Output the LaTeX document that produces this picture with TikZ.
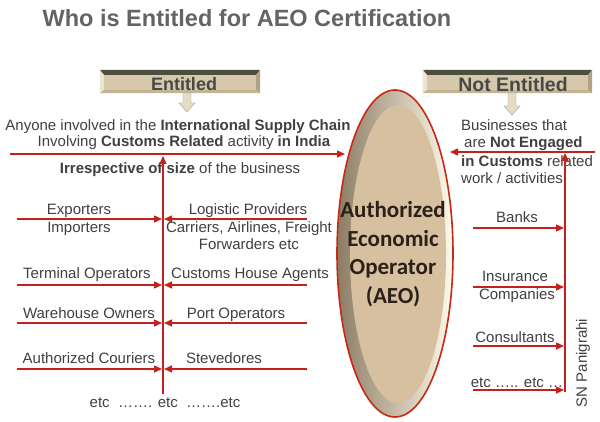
\documentclass[tikz,border=0pt]{standalone}
\usepackage{fontspec}
\setmainfont{Liberation Sans}
\newfontfamily\calib{Carlito}
\usetikzlibrary{arrows.meta,shapes.geometric}
\definecolor{arrred}{RGB}{196,32,28}
\definecolor{ellred}{RGB}{200,40,20}
\definecolor{txt}{RGB}{64,64,64}
\definecolor{titlegray}{RGB}{100,100,100}
\definecolor{boxtan}{RGB}{214,200,170}
\definecolor{bevdark}{RGB}{78,78,64}
\definecolor{bevlight}{RGB}{236,228,210}
\definecolor{bevright}{RGB}{176,162,132}
\definecolor{bevbot}{RGB}{194,180,148}
\definecolor{hdrtxt}{RGB}{72,72,72}
\definecolor{arrfill}{RGB}{230,220,198}
\definecolor{arrdraw}{RGB}{170,160,140}
\definecolor{bevL}{RGB}{140,124,100}
\definecolor{bevR}{RGB}{255,250,236}
\definecolor{innertan}{RGB}{214,192,160}
\definecolor{aeotxt}{RGB}{43,33,24}
\begin{document}
\begin{tikzpicture}[x=1pt,y=-1pt,
  lbl/.style={anchor=base,text=txt,inner sep=0pt,font=\fontsize{15}{18}\selectfont},
  redarr/.style={draw=arrred,line width=1.3pt,-{Triangle[length=8pt,width=7pt]}},
  hdrbox/.style={draw=none,fill=boxtan,minimum height=23pt,inner sep=0pt},
  hdrtext/.style={anchor=base,inner sep=0pt,text=hdrtxt},
  blockarr/.style={fill=arrfill,draw=arrdraw,line width=0.4pt},
  aeoline/.style={anchor=base,inner sep=0pt,text=aeotxt,font=\fontsize{23}{28}\calib\bfseries}
]
\useasboundingbox[fill=white] (0,0) rectangle (600,422);

% title
\node[anchor=base,inner sep=0pt,text=titlegray,font=\fontsize{23.5}{28}\selectfont\bfseries] (title) at (247,27) {Who is Entitled for AEO Certification};

% header boxes
\node[hdrbox,minimum width=160pt] (ent) at (180,81.5) {};
\node[hdrbox,minimum width=169pt] (nent) at (507.5,81.5) {};
\foreach \b in {ent,nent}{
  \fill[bevdark] (\b.north west) -- (\b.north east) -- ([xshift=-4pt,yshift=-5pt]\b.north east) -- ([xshift=4pt,yshift=-5pt]\b.north west) -- cycle;
  \fill[bevlight] (\b.north west) -- ([xshift=4pt,yshift=-5pt]\b.north west) -- ([xshift=4pt,yshift=3pt]\b.south west) -- (\b.south west) -- cycle;
  \fill[bevright] (\b.north east) -- ([xshift=-4pt,yshift=-5pt]\b.north east) -- ([xshift=-4pt,yshift=3pt]\b.south east) -- (\b.south east) -- cycle;
  \fill[bevbot] (\b.south west) -- ([xshift=4pt,yshift=3pt]\b.south west) -- ([xshift=-4pt,yshift=3pt]\b.south east) -- (\b.south east) -- cycle;
}
\node[hdrtext,font=\fontsize{18}{20}\selectfont\bfseries] (entt) at (184,91) {Entitled};
\node[hdrtext,font=\fontsize{19.5}{22}\selectfont\bfseries] (nentt) at (513,91.5) {Not Entitled};

% small block arrows under headers
\draw[blockarr] (183,93) -- (191,93) -- (191,103) -- (195,103) -- (187,112) -- (179,103) -- (183,103) -- cycle;
\draw[blockarr] (508,93) -- (516,93) -- (516,106) -- (520,106) -- (512,115) -- (504,106) -- (508,106) -- cycle;

% central ellipse
\node[ellipse,minimum width=116pt,minimum height=327pt,inner sep=0pt,draw=ellred,line width=1.6pt,left color=bevL,right color=bevR] (aeo) at (395,253.5) {};
\node[ellipse,minimum width=96pt,minimum height=298pt,inner sep=0pt,fill=innertan] (aeoin) at (398,254) {};
\node[aeoline] (aeo1) at (393,218) {Authorized};
\node[aeoline] (aeo2) at (393,247) {Economic};
\node[aeoline] (aeo3) at (393,275) {Operator};
\node[aeoline] (aeo4) at (393,303) {(AEO)};

% left texts
\node[lbl] (l1) at (178,131) {Anyone involved in the \textbf{International Supply Chain}};
\node[lbl] (l2) at (184,147) {Involving \textbf{Customs Related} activity \textbf{in India}};
\node[lbl] (l3) at (180,174) {\textbf{Irrespective of size} of the business};
\node[lbl] (exp) at (79,215) {Exporters};
\node[lbl] (imp) at (79,233) {Importers};
\node[lbl] (log) at (248,215) {Logistic Providers};
\node[lbl] (car) at (249,233) {Carriers, Airlines, Freight};
\node[lbl] (fwd) at (249,250) {Forwarders etc};
\node[lbl] (term) at (87,279) {Terminal Operators};
\node[lbl] (cha) at (250,279) {Customs House Agents};
\node[lbl] (ware) at (89,318) {Warehouse Owners};
\node[lbl] (port) at (236,318) {Port Operators};
\node[lbl] (cour) at (89,363) {Authorized Couriers};
\node[lbl] (stev) at (224,363) {Stevedores};
\node[lbl] (etcl) at (165,407) {etc \ ……. etc \ …….etc};

% right texts
\node[lbl,anchor=base west] (r1) at (461,131) {Businesses that};
\node[lbl,anchor=base west] (r2) at (464,148) {are \textbf{Not Engaged}};
\node[lbl,anchor=base west] (r3) at (461,167) {\textbf{in Customs} related};
\node[lbl,anchor=base west] (r4) at (461,184) {work / activities};
\node[lbl] (banks) at (517,223) {Banks};
\node[lbl] (ins) at (515,282) {Insurance};
\node[lbl] (comp) at (517,299) {Companies};
\node[lbl] (cons) at (515,342) {Consultants};
\node[lbl] (etcr) at (517,387) {etc ….. etc …};
\node[lbl,anchor=center,rotate=90] (sn) at (583,363) {SN Panigrahi};

% left arrows
\coordinate (lA) at (10,154);
\coordinate (lAt) at (345,154);
\draw[redarr] (lA) -- (lAt);
\coordinate (lvb) at (163,394);
\coordinate (lvt) at (163,156);
\draw[redarr] (lvb) -- (lvt);
\foreach \y/\n in {219/a,285/b,323/c,369/d}{
  \coordinate (ls\n) at (17,\y);
  \coordinate (lt\n) at (162,\y);
  \coordinate (rs\n) at (307,\y);
  \coordinate (rt\n) at (164,\y);
  \draw[redarr] (ls\n) -- (lt\n);
  \draw[redarr] (rs\n) -- (rt\n);
}

% right arrows
\coordinate (rA) at (595,152);
\coordinate (rAt) at (450,152);
\draw[redarr] (rA) -- (rAt);
\coordinate (rvb) at (565,392);
\coordinate (rvt) at (565,153);
\draw[redarr] (rvb) -- (rvt);
\foreach \y/\n in {228/a,287/b,346/c,390/d}{
  \coordinate (qs\n) at (473,\y);
  \coordinate (qt\n) at (564,\y);
  \draw[redarr] (qs\n) -- (qt\n);
}
\end{tikzpicture}
\end{document}
